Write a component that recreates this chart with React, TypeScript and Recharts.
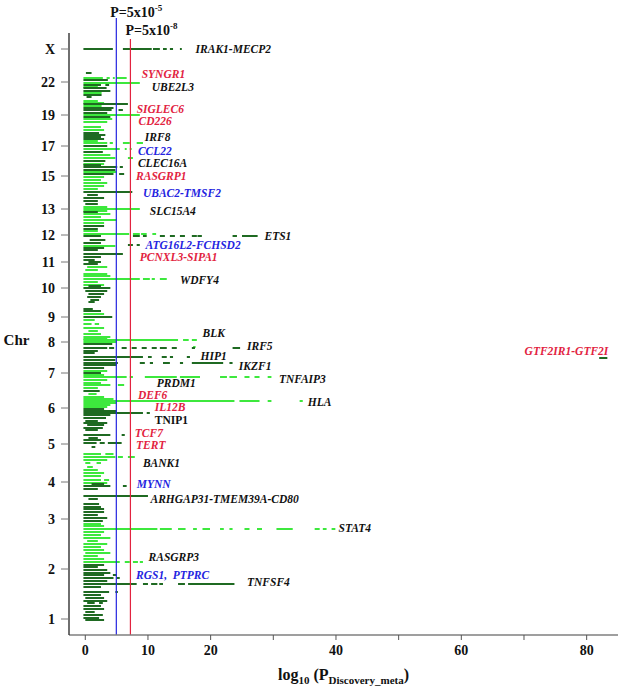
import React from 'react';
import { ComposedChart, XAxis, YAxis, Scatter, ReferenceLine } from 'recharts';

const LIGHT = '#3de83d';
const DARK = '#1f6a22';
const RED = '#e2233f';
const BLUE = '#2424e0';
const BLACK = '#111111';
const FONT = '"Liberation Serif", "Times New Roman", serif';

type Row = [number, 'L' | 'D', number[]];

// chromosome tick positions (cumulative position units) and labels
const chrTickPos = [16, 66, 116, 153, 191, 227, 262, 293, 318, 347, 373, 400, 426, 445, 459, 475, 489, 506, 520, 530, 543, 553, 586];
const chrLabels = ['1', '2', '3', '4', '5', '6', '7', '8', '9', '10', '11', '12', '13', '14', '15', '16', '17', '18', '19', '20', '21', '22', 'X'];

const xTicks = [0, 10, 20, 30, 40, 50, 60, 70, 80];
const xTickLabels = ['0', '10', '20', '', '40', '', '60', '', '80'];

// thresholds: -log10(5e-5) and -log10(5e-8) as drawn
const thresholdSuggestive = 4.95;
const thresholdGenomeWide = 7.2;

// rows: [position, colour, [from, to, from, to ...]] in log10(P) units
const rowsX: Row[] = [
  [586, 'D', [-0.3, 4.4, 6.0, 10.6, 10.8, 11.9, 12.4, 13.0, 13.5, 14.0, 15.1, 15.4]],
];

const rows22to18: Row[] = [
  [562, 'D', [0.1, 1.0]],
  [557, 'L', [-0.3, 2.8, 3.4, 3.9, 4.4, 4.7, 5.0, 6.6]],
  [555, 'D', [-0.3, 3.6]],
  [552, 'L', [-0.3, 8.7]],
  [550, 'D', [-0.3, 2.5, 3.2, 3.8]],
  [548, 'L', [-0.3, 2.0]],
  [547, 'D', [-0.3, 3.4]],
  [544, 'D', [-0.3, 4.0]],
  [542, 'L', [-0.3, 2.6]],
  [540, 'D', [-0.3, 2.6]],
  [538, 'D', [0.2, 1.0]],
  [534, 'L', [-0.3, 2.0]],
  [532, 'L', [-0.3, 3.0]],
  [531, 'D', [-0.3, 6.8]],
  [529, 'L', [-0.3, 2.6]],
  [527, 'D', [-0.3, 4.5]],
  [525, 'D', [-0.3, 4.2, 5.3, 6.0]],
  [522, 'D', [-0.3, 3.5]],
  [520, 'L', [-0.3, 8.7]],
  [518, 'D', [-0.3, 4.0]],
  [516, 'L', [-0.3, 4.3]],
  [513, 'L', [-0.3, 3.5]],
  [508, 'L', [-0.3, 2.5]],
  [505, 'L', [-0.3, 3.0]],
  [502, 'D', [-0.3, 2.2]],
  [500, 'D', [-0.3, 3.2]],
  [498, 'D', [-0.3, 2.5]],
  [496, 'D', [-0.3, 3.0]],
  [494, 'L', [-0.3, 2.0]],
];

const rows17to13: Row[] = [
  [492, 'L', [-0.3, 3.5, 3.9, 4.4, 6.0, 7.1, 8.2, 9.2]],
  [489, 'D', [-0.3, 3.5]],
  [486, 'L', [-0.3, 5.5, 6.3, 6.6, 7.1, 7.4]],
  [483, 'D', [-0.3, 2.8]],
  [480, 'L', [-0.3, 4.0]],
  [477, 'L', [-0.3, 4.8, 6.8, 7.6]],
  [474, 'D', [-0.3, 3.2]],
  [471, 'L', [-0.3, 3.0]],
  [470, 'D', [-0.3, 2.5]],
  [468, 'D', [-0.3, 5.1, 5.5, 6.0]],
  [465, 'D', [-0.3, 4.8]],
  [463, 'L', [-0.3, 5.0]],
  [461, 'D', [-0.3, 4.5, 5.4, 6.2]],
  [458, 'L', [-0.3, 3.0]],
  [455, 'L', [-0.3, 2.5]],
  [452, 'L', [-0.3, 3.5]],
  [449, 'L', [-0.3, 3.0]],
  [446, 'L', [-0.3, 2.0]],
  [443, 'D', [-0.3, 7.5]],
  [440, 'D', [0.3, 2.0]],
  [437, 'D', [-0.3, 3.0]],
  [434, 'D', [-0.3, 2.0]],
  [431, 'D', [0.0, 2.0]],
  [428, 'L', [-0.3, 3.5]],
  [426, 'L', [-0.3, 8.7]],
  [424, 'L', [-0.3, 3.5]],
  [423, 'D', [-0.3, 2.0]],
  [421, 'L', [-0.3, 4.0]],
  [418, 'L', [-0.3, 2.5]],
  [415, 'L', [-0.3, 5.0]],
  [412, 'L', [-0.3, 3.0]],
  [409, 'D', [-0.3, 3.0]],
  [406, 'D', [-0.3, 2.0]],
  [404, 'L', [-0.3, 2.0]],
];

const rows12to9: Row[] = [
  [401, 'L', [-0.3, 7.0, 7.6, 8.7, 8.9, 9.8, 10.7, 11.3]],
  [399, 'D', [-0.3, 2.5, 7.6, 8.7, 9.2, 9.8, 11.9, 12.7, 13.5, 14.3, 15.1, 15.9, 17.0, 17.8, 17.9, 18.6, 23.5, 24.2, 25.0, 27.5]],
  [395, 'D', [0.7, 3.2]],
  [392, 'D', [-0.3, 2.5]],
  [390, 'D', [6.8, 7.6, 8.2, 8.7]],
  [389, 'L', [-0.3, 4.8]],
  [387, 'D', [-0.3, 3.0]],
  [385, 'D', [-0.3, 2.0]],
  [381, 'D', [-0.3, 6.0]],
  [378, 'D', [-0.3, 2.5]],
  [375, 'D', [-0.3, 1.5]],
  [373, 'D', [0.5, 2.5]],
  [371, 'D', [-0.3, 2.0]],
  [368, 'L', [0.3, 3.5]],
  [365, 'L', [0.0, 2.0]],
  [361, 'L', [-0.3, 3.5]],
  [359, 'L', [-0.3, 4.0]],
  [356, 'L', [-0.3, 8.7, 9.2, 10.3, 10.6, 11.1, 11.9, 13.0]],
  [353, 'L', [-0.3, 2.0]],
  [350, 'L', [-0.3, 3.0]],
  [349, 'D', [0.5, 2.5]],
  [347, 'D', [-0.3, 4.0]],
  [344, 'D', [0.0, 3.5]],
  [341, 'D', [0.5, 3.0]],
  [338, 'D', [0.3, 2.5]],
  [335, 'D', [0.8, 2.2]],
  [333, 'D', [0.5, 1.5]],
  [326, 'D', [-0.3, 1.2]],
  [324, 'D', [-0.3, 2.5]],
  [321, 'L', [-0.3, 3.0]],
  [318, 'D', [-0.3, 4.3]],
  [315, 'L', [-0.3, 1.5]],
];

const rows8to6: Row[] = [
  [311, 'L', [-0.3, 1.0, 1.5, 2.2]],
  [307, 'L', [-0.3, 3.0]],
  [304, 'L', [0.5, 2.0]],
  [301, 'L', [-0.3, 2.5]],
  [298, 'L', [-0.3, 4.0]],
  [296, 'L', [-0.3, 3.5]],
  [295, 'L', [-0.3, 14.8, 15.6, 16.5, 17.0, 17.8]],
  [293, 'L', [-0.3, 5.0]],
  [291, 'D', [-0.3, 4.3]],
  [288, 'L', [17.2, 17.6]],
  [287, 'D', [-0.3, 3.5, 3.8, 4.6, 5.8, 6.6, 7.4, 8.2, 9.0, 9.8, 10.6, 11.4, 11.9, 13.0, 13.8, 14.6, 17.0, 17.5, 23.5, 24.7]],
  [284, 'D', [-0.3, 2.0]],
  [282, 'D', [-0.3, 1.5]],
  [278, 'D', [-0.3, 9.2, 10.0, 10.6, 12.2, 13.0, 13.5, 14.0, 16.2, 16.7]],
  [277, 'D', [82.0, 83.3]],
  [275, 'D', [-0.3, 4.8]],
  [272, 'D', [-0.3, 5.2, 8.7, 9.5, 10.3, 10.8, 12.4, 13.5, 15.1, 15.6, 17.0, 22.0, 23.0, 23.5]],
  [270, 'D', [-0.3, 5.0]],
  [267, 'D', [-0.3, 3.0]],
  [264, 'L', [-0.3, 3.5]],
  [262, 'D', [-0.3, 2.5]],
  [260, 'L', [-0.3, 3.0]],
  [258, 'L', [-0.3, 6.6, 7.1, 7.6, 9.5, 14.6, 15.1, 18.3, 21.5, 22.6, 23.0, 24.2, 25.4, 26.2, 27.0, 27.8, 29.1, 29.7]],
  [255, 'L', [-0.3, 3.5]],
  [252, 'L', [-0.3, 2.5]],
  [250, 'L', [-0.3, 4.0, 5.2, 6.2]],
  [247, 'L', [-0.3, 2.0]],
  [244, 'D', [-0.3, 2.3]],
  [241, 'L', [0.5, 1.8]],
  [238, 'L', [-0.3, 3.0]],
  [236, 'L', [-0.3, 4.5]],
  [234, 'L', [-0.3, 23.8, 24.6, 27.8, 29.1, 29.7, 34.2, 34.7]],
  [232, 'L', [-0.3, 5.0]],
  [230, 'L', [-0.3, 4.0]],
  [228, 'L', [-0.3, 3.5]],
  [226, 'D', [-0.3, 3.0]],
];

const rows5to3: Row[] = [
  [224, 'D', [-0.3, 5.0]],
  [222, 'D', [-0.3, 9.2, 9.8, 10.3]],
  [220, 'D', [-0.3, 4.0]],
  [217, 'D', [-0.3, 3.3]],
  [214, 'D', [0.0, 2.0]],
  [212, 'D', [-0.3, 3.5]],
  [210, 'D', [0.3, 3.0]],
  [207, 'D', [-0.3, 2.8]],
  [205, 'D', [0.0, 2.0]],
  [200, 'D', [-0.3, 4.0, 5.8, 6.3]],
  [197, 'D', [0.5, 2.0]],
  [195, 'D', [-0.3, 2.5]],
  [192, 'D', [-0.3, 1.8, 2.3, 3.1, 3.6, 5.8]],
  [188, 'D', [1.0, 1.6]],
  [181, 'L', [-0.3, 2.5, 3.2, 4.5]],
  [178, 'L', [-0.3, 4.8, 5.2, 6.0, 6.8, 7.9]],
  [175, 'L', [-0.3, 3.5]],
  [172, 'L', [0.0, 0.8, 1.8, 2.5]],
  [168, 'L', [0.3, 1.2]],
  [165, 'L', [-0.3, 2.0]],
  [162, 'L', [-0.3, 3.0]],
  [159, 'L', [-0.3, 2.5]],
  [155, 'L', [-0.3, 2.5, 3.0, 3.8]],
  [152, 'L', [-0.3, 3.5]],
  [151, 'D', [1.0, 3.0]],
  [149, 'D', [-0.3, 4.0, 6.0, 6.6]],
  [146, 'D', [-0.3, 2.0]],
  [139, 'D', [-0.3, 10.0]],
  [136, 'D', [0.5, 2.0]],
  [131, 'D', [-0.3, 2.2]],
  [128, 'D', [-0.3, 2.5]],
  [126, 'D', [-0.3, 3.0]],
  [123, 'D', [-0.3, 3.0]],
  [120, 'D', [-0.3, 2.0]],
  [117, 'D', [-0.3, 3.5]],
  [114, 'D', [-0.3, 2.8]],
  [111, 'L', [-0.3, 2.5]],
  [109, 'L', [-0.3, 3.0]],
];

const rows2to1: Row[] = [
  [106, 'L', [-0.3, 11.5, 11.9, 13.8, 14.8, 16.0, 17.2, 17.8, 18.7, 19.9, 21.5, 22.1, 23.0, 23.5, 25.4, 26.2, 27.4, 28.2, 30.5, 33.1, 36.6, 37.4, 37.9, 38.5, 39.3, 39.9]],
  [103, 'L', [-0.3, 3.0]],
  [100, 'L', [-0.3, 2.5]],
  [97, 'L', [-0.3, 4.0]],
  [94, 'L', [0.3, 2.0]],
  [91, 'L', [-0.3, 3.5]],
  [88, 'L', [-0.3, 2.5]],
  [85, 'L', [-0.3, 3.0]],
  [82, 'L', [0.0, 4.0]],
  [79, 'L', [-0.3, 2.0]],
  [76, 'L', [-0.3, 3.0]],
  [73, 'L', [-0.3, 5.5, 6.3, 7.1, 7.6, 8.4, 8.7, 9.2]],
  [70, 'D', [-0.3, 3.0]],
  [68, 'D', [-0.3, 2.0]],
  [65, 'D', [-0.3, 3.5]],
  [62, 'D', [-0.3, 4.0]],
  [60, 'D', [-0.3, 3.0, 4.4, 5.0]],
  [57, 'D', [-0.3, 4.5, 5.0, 5.5]],
  [54, 'D', [-0.3, 3.5]],
  [51, 'D', [-0.3, 8.2, 9.2, 10.0, 10.5, 11.5, 11.8, 12.4, 14.8, 15.9, 16.4, 23.8]],
  [48, 'D', [-0.3, 2.5]],
  [43, 'D', [-0.3, 3.8, 4.8, 5.2]],
  [40, 'D', [-0.3, 2.5]],
  [37, 'D', [0.0, 3.0]],
  [34, 'D', [-0.3, 3.5]],
  [32, 'D', [0.3, 1.5, 2.2, 2.8]],
  [29, 'D', [-0.3, 2.5]],
  [26, 'D', [-0.3, 3.0]],
  [23, 'D', [0.0, 1.5]],
  [20, 'D', [-0.3, 2.8]],
  [17, 'D', [-0.3, 2.2]],
  [15, 'D', [0.0, 3.0]],
];

// gene annotations: name, x (log10 P), position, colour key
const geneNames = ['IRAK1-MECP2', 'SYNGR1', 'UBE2L3', 'SIGLEC6', 'CD226', 'IRF8', 'CCL22', 'CLEC16A', 'RASGRP1', 'UBAC2-TMSF2', 'SLC15A4', 'ETS1', 'ATG16L2-FCHSD2', 'PCNXL3-SIPA1', 'WDFY4', 'BLK', 'IRF5', 'HIP1', 'IKZF1', 'GTF2IR1-GTF2I', 'TNFAIP3', 'PRDM1', 'DEF6', 'HLA', 'IL12B', 'TNIP1', 'TCF7', 'TERT', 'BANK1', 'MYNN', 'ARHGAP31-TMEM39A-CD80', 'STAT4', 'RASGRP3', 'RGS1,\u00A0\u00A0PTPRC', 'TNFSF4'];
const geneX = [17.6, 9.0, 10.6, 8.2, 8.5, 9.5, 8.4, 8.4, 8.1, 9.2, 10.3, 28.6, 9.6, 8.7, 15.1, 18.7, 25.8, 18.4, 24.5, 70.1, 30.9, 11.4, 8.4, 35.5, 11.1, 11.1, 7.9, 8.1, 9.2, 8.2, 10.4, 40.4, 10.1, 8.1, 25.8];
const geneY = [586, 561, 548, 526, 514, 498, 484, 472, 459, 442, 424, 399, 390, 378, 355, 302, 289, 279, 269, 284, 256, 252, 240, 233, 228, 215, 202, 190, 172, 151, 136, 107, 78, 60, 53];
const geneColour = ['K', 'R', 'K', 'R', 'R', 'K', 'B', 'K', 'R', 'B', 'K', 'K', 'B', 'R', 'K', 'K', 'K', 'K', 'K', 'R', 'K', 'K', 'R', 'K', 'R', 'T', 'R', 'R', 'K', 'B', 'K', 'K', 'K', 'B', 'K'];

const allRows: Row[] = [...rowsX, ...rows22to18, ...rows17to13, ...rows12to9, ...rows8to6, ...rows5to3, ...rows2to1];

const segments: { y: number; x0: number; x1: number; color: string }[] = [];
allRows.forEach(([y, c, s]) => {
  for (let i = 0; i + 1 < s.length; i += 2) {
    segments.push({ y, x0: s[i], x1: s[i + 1], color: c === 'L' ? LIGHT : DARK });
  }
});

const geneData = geneNames.map((name, i) => ({ name, x: geneX[i], y: geneY[i], c: geneColour[i] }));

const colourOf = (c: string) => (c === 'R' ? RED : c === 'B' ? BLUE : BLACK);

const GeneLabel = (p: any) => {
  const d = p.payload;
  return (
    <text
      x={p.cx}
      y={p.cy}
      dy={4}
      fill={colourOf(d.c)}
      fontFamily={FONT}
      fontWeight="bold"
      fontStyle={d.c === 'T' ? 'normal' : 'italic'}
      fontSize={11.5}
      style={{ whiteSpace: 'pre' }}
    >
      {d.name}
    </text>
  );
};

const XTick = (p: any) => {
  const idx = xTicks.indexOf(p.payload.value);
  const label = idx >= 0 ? xTickLabels[idx] : '';
  return (
    <text x={p.x} y={p.y} dy={13} textAnchor="middle" fontFamily={FONT} fontWeight="bold" fontSize={14} fill="#111">
      {label}
    </text>
  );
};

const YTick = (p: any) => {
  const idx = chrTickPos.indexOf(p.payload.value);
  const label = idx >= 0 ? chrLabels[idx] : '';
  return (
    <text x={p.x} y={p.y} dx={-4} dy={5} textAnchor="end" fontFamily={FONT} fontWeight="bold" fontSize={14} fill="#111">
      {label}
    </text>
  );
};

const XTitle = (p: any) => {
  const vb = p.viewBox;
  return (
    <text x={vb.x + vb.width / 2} y={vb.y + 45} textAnchor="middle" fontFamily={FONT} fontWeight="bold" fontSize={16} fill="#111">
      <tspan>log</tspan>
      <tspan fontSize={11} dy={4}>10</tspan>
      <tspan fontSize={16} dy={-4}> (P</tspan>
      <tspan fontSize={11} dy={4}>Discovery_meta</tspan>
      <tspan fontSize={16} dy={-4}>)</tspan>
    </text>
  );
};

const YTitle = (p: any) => {
  const vb = p.viewBox;
  return (
    <text x={16.5} y={vb.y + vb.height / 2 + 11} textAnchor="middle" fontFamily={FONT} fontWeight="bold" fontSize={15} fill="#111">
      Chr
    </text>
  );
};

const ThresholdLabel = (exp: string, dx: number, dy: number) => (p: any) => {
  const vb = p.viewBox;
  return (
    <text x={vb.x + dx} y={vb.y + dy} fontFamily={FONT} fontWeight="bold" fontSize={14} fill="#111">
      <tspan>P=5x10</tspan>
      <tspan fontSize={9} dy={-6}>{exp}</tspan>
    </text>
  );
};

export default function App() {
  return (
    <div style={{ position: 'absolute', left: 0, top: 0, width: 624, height: 688, background: '#fff' }}>
      <ComposedChart width={624} height={688} margin={{ top: 33, right: 6, bottom: 23, left: 0 }}>
        <XAxis
          type="number"
          dataKey="x"
          domain={[-2.6, 85]}
          ticks={xTicks}
          allowDataOverflow
          tickSize={5}
          height={30}
          axisLine={{ stroke: '#7f7f7f', strokeWidth: 1.6 }}
          tickLine={{ stroke: '#555' }}
          tick={<XTick />}
          label={{ content: <XTitle /> }}
        />
        <YAxis
          type="number"
          dataKey="y"
          domain={[0, 602]}
          ticks={chrTickPos}
          allowDataOverflow
          width={69}
          tickSize={8}
          axisLine={{ stroke: '#333', strokeWidth: 1.4 }}
          tickLine={{ stroke: '#777' }}
          tick={<YTick />}
          label={{ content: <YTitle /> }}
        />
        {segments.map((s, i) => (
          <ReferenceLine
            key={'s' + i}
            segment={[{ x: s.x0, y: s.y }, { x: s.x1, y: s.y }]}
            stroke={s.color}
            strokeWidth={2}
            ifOverflow="visible"
          />
        ))}
        <ReferenceLine
          segment={[{ x: thresholdSuggestive, y: 0 }, { x: thresholdSuggestive, y: 617 }]}
          stroke={BLUE}
          strokeWidth={1.2}
          ifOverflow="visible"
          label={{ content: ThresholdLabel('-5', -6, -1) }}
        />
        <ReferenceLine
          segment={[{ x: thresholdGenomeWide, y: 0 }, { x: thresholdGenomeWide, y: 596 }]}
          stroke={RED}
          strokeWidth={1.2}
          ifOverflow="visible"
          label={{ content: ThresholdLabel('-8', -5, -4) }}
        />
        <Scatter data={geneData} dataKey="y" isAnimationActive={false} shape={<GeneLabel />} />
      </ComposedChart>
    </div>
  );
}
